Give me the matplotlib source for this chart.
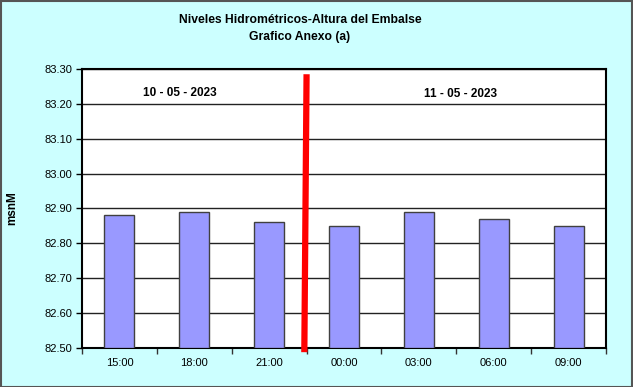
import matplotlib
matplotlib.use("Agg")
import matplotlib.pyplot as plt
from matplotlib.patches import Rectangle

plt.rcParams['font.family'] = ['Liberation Sans', 'DejaVu Sans']

categories = ["15:00", "18:00", "21:00", "00:00", "03:00", "06:00", "09:00"]
values = [82.88, 82.89, 82.86, 82.85, 82.89, 82.87, 82.85]
yticks = [82.50, 82.60, 82.70, 82.80, 82.90, 83.00, 83.10, 83.20, 83.30]
date_labels = ["10 - 05 - 2023", "11 - 05 - 2023"]

W, H = 633, 387
fig = plt.figure(figsize=(W / 100, H / 100), dpi=100)
fig.patch.set_facecolor("#CCFFFF")

ax = fig.add_axes([82 / W, 1 - 348 / H, (606 - 82) / W, (348 - 69) / H])
ax.set_facecolor("white")

x = list(range(len(categories)))
ax.bar(x, [v - yticks[0] for v in values], bottom=yticks[0], width=0.4,
       color="#9999FF", edgecolor="#404040", linewidth=1, zorder=3)

ax.set_xlim(-0.5, len(categories) - 0.5)
ax.set_ylim(yticks[0], yticks[-1])
ax.set_yticks(yticks)
ax.set_yticklabels([f"{t:.2f}" for t in yticks], fontsize=8)
ax.set_xticks(x)
ax.set_xticklabels(categories, fontsize=8)
ax.tick_params(axis="x", length=0, pad=7)
ax.set_xticks([i + 0.5 for i in range(-1, len(categories))], minor=True)
ax.tick_params(axis="x", which="minor", length=4, width=1, color="#333333", direction="out")
ax.tick_params(axis="y", length=4, width=1, direction="out", pad=3)

ax.yaxis.grid(True, color="#222222", linewidth=1)
ax.set_axisbelow(True)
for s in ax.spines.values():
    s.set_linewidth(1.5)
    s.set_color("black")

# red separator line between days
ax.plot([2.47, 2.5], [82.488, 83.285], color="#FF0000", linewidth=4.5,
        clip_on=False, zorder=5, solid_capstyle="butt")

ax.text(0.8, 83.232, date_labels[0], fontsize=8.5, fontweight="bold", ha="center", va="center")
ax.text(4.55, 83.229, date_labels[1], fontsize=8.5, fontweight="bold", ha="center", va="center")

ax.set_ylabel("msnM", fontsize=8.5, fontweight="bold")
ax.yaxis.set_label_coords(-64 / 524, 0.5)

fig.text(300 / W, 1 - 20 / H, "Niveles Hidrométricos-Altura del Embalse", fontsize=8.7,
         fontweight="bold", ha="center", va="center")
fig.text(300 / W, 1 - 37 / H, "Grafico Anexo (a)", fontsize=8.7,
         fontweight="bold", ha="center", va="center")

fig.patches.append(Rectangle((0.5 / W, 0.5 / H), 1 - 1.5 / W, 1 - 1.5 / H,
                             transform=fig.transFigure, fill=False,
                             edgecolor="#555555", linewidth=1.5))

fig.savefig("out.png", dpi=100, facecolor=fig.get_facecolor())
